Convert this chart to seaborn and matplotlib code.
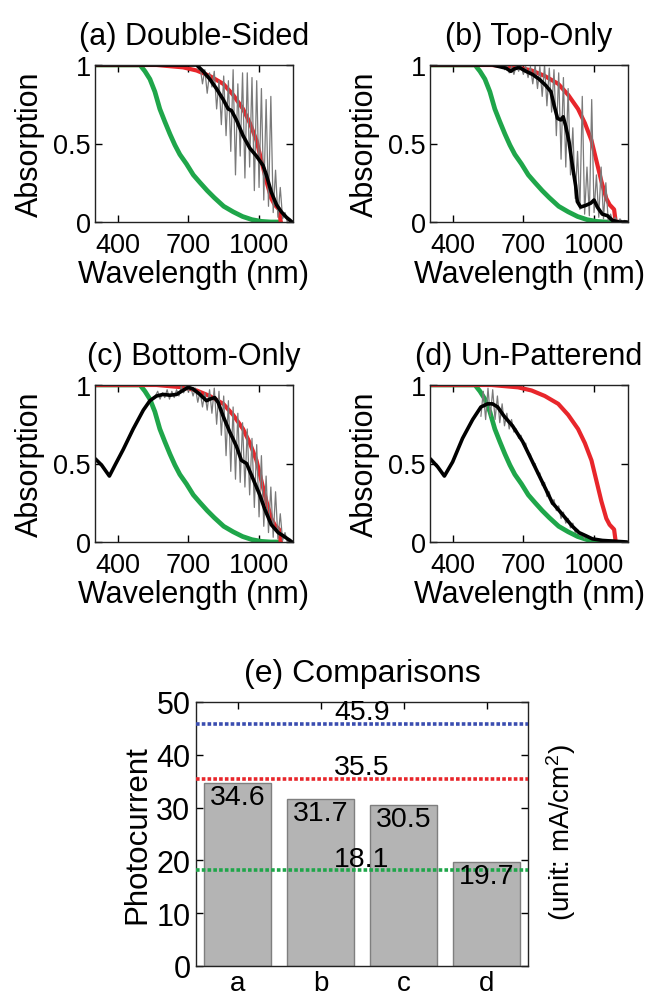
import matplotlib
matplotlib.use("Agg")
import matplotlib.pyplot as plt
import seaborn as sns

# shared reference curves (same in every panel)
green_x = [305, 495, 516, 537, 558, 579, 600, 622, 643, 664, 692, 721, 750, 780, 810, 850, 890, 930, 970, 1010, 1050, 1090]
green_y = [1.0, 1.0, 0.96, 0.91, 0.83, 0.72, 0.64, 0.56, 0.49, 0.43, 0.37, 0.30, 0.25, 0.20, 0.155, 0.10, 0.065, 0.035, 0.015, 0.004, 0.0, 0.0]
red_x = [305, 565, 678, 735, 791, 848, 890, 932, 961, 989, 1010, 1031, 1052, 1066, 1085, 1092]
red_y = [1.0, 1.0, 0.985, 0.965, 0.93, 0.88, 0.81, 0.72, 0.63, 0.52, 0.39, 0.26, 0.15, 0.11, 0.08, 0.0]

# (a) Double-Sided
black_a_x = [305, 735, 763, 791, 819, 848, 869, 883, 904, 932, 961, 989, 1017, 1031, 1052, 1074, 1095, 1116, 1140]
black_a_y = [1.0, 1.0, 0.96, 0.91, 0.85, 0.78, 0.72, 0.71, 0.65, 0.55, 0.47, 0.42, 0.36, 0.30, 0.19, 0.11, 0.064, 0.03, 0.0]
grey_a_x = list(range(740, 1141, 10))
grey_a_y = [0.97, 0.99, 0.88, 0.97, 0.82, 0.95, 0.86, 0.96, 0.72, 0.90, 0.62, 0.93, 0.55, 0.90, 0.45, 0.97,
            0.30, 0.88, 0.42, 0.95, 0.28, 0.95, 0.35, 0.92, 0.20, 0.90, 0.22, 0.85, 0.14, 0.78, 0.10, 0.80,
            0.06, 0.33, 0.03, 0.22, 0.02, 0.06, 0.00, 0.02, 0.00]

# (b) Top-Only
black_b_x = [305, 569, 598, 626, 647, 661, 682, 711, 739, 767, 795, 817, 831, 845, 859, 869, 880, 894, 908, 922,
             929, 943, 965, 986, 1000, 1014, 1035, 1057, 1078, 1106, 1140]
black_b_y = [1.0, 1.0, 0.99, 0.98, 0.96, 0.975, 0.985, 0.96, 0.94, 0.91, 0.87, 0.83, 0.74, 0.66, 0.65, 0.67, 0.61,
             0.51, 0.36, 0.23, 0.13, 0.095, 0.106, 0.12, 0.14, 0.095, 0.05, 0.04, 0.01, 0.0, 0.0]
grey_b_x = list(range(620, 1141, 10))
grey_b_y = [0.97, 1.00, 0.95, 0.99, 0.94, 1.00, 0.96, 1.00, 0.94, 0.99, 0.92, 0.99, 0.88, 1.00, 0.85, 0.99,
            0.80, 1.00, 0.74, 0.98, 0.70, 0.97, 0.55, 0.95, 0.40, 0.92, 0.35, 0.85, 0.30, 0.60, 0.15, 0.45,
            0.08, 0.80, 0.05, 0.35, 0.04, 0.78, 0.06, 0.30, 0.03, 0.35, 0.02, 0.25, 0.01, 0.05, 0.00, 0.03,
            0.00, 0.02, 0.00, 0.01, 0.00]

# (c) Bottom-Only
black_c_x = [305, 332, 365, 389, 424, 466, 509, 537, 565, 593, 622, 650, 671, 699, 720, 749, 777, 791, 812, 826,
             848, 876, 904, 925, 947, 975, 1003, 1024, 1052, 1081, 1102, 1140]
black_c_y = [0.53, 0.49, 0.42, 0.49, 0.59, 0.72, 0.84, 0.90, 0.93, 0.94, 0.935, 0.94, 0.96, 0.985, 0.975, 0.94,
             0.90, 0.91, 0.92, 0.89, 0.80, 0.70, 0.61, 0.52, 0.50, 0.40, 0.30, 0.21, 0.11, 0.06, 0.04, 0.0]
grey_c_x = list(range(560, 1141, 10))
grey_c_y = [0.93, 0.96, 0.91, 0.95, 0.92, 0.97, 0.91, 0.96, 0.92, 0.97, 0.93, 0.99, 0.95, 1.00, 0.96, 0.99,
            0.93, 0.98, 0.89, 0.96, 0.86, 0.95, 0.84, 0.97, 0.82, 0.98, 0.75, 0.96, 0.68, 0.93, 0.55, 0.90,
            0.45, 0.86, 0.40, 0.82, 0.38, 0.76, 0.35, 0.72, 0.30, 0.66, 0.22, 0.62, 0.16, 0.55, 0.10, 0.42,
            0.06, 0.35, 0.03, 0.32, 0.02, 0.18, 0.01, 0.06, 0.00, 0.02, 0.00]

# (d) Un-Patterend
black_d_x = [305, 336, 365, 400, 442, 485, 520, 548, 569, 591, 619, 654, 697, 739, 781, 823, 852, 880, 908, 936,
             965, 993, 1035, 1140]
black_d_y = [0.53, 0.48, 0.42, 0.51, 0.66, 0.78, 0.86, 0.88, 0.88, 0.86, 0.80, 0.74, 0.64, 0.51, 0.38, 0.25,
             0.20, 0.15, 0.10, 0.06, 0.04, 0.02, 0.01, 0.0]
grey_d_x = list(range(520, 961, 10))
grey_d_y = [0.80, 0.96, 0.78, 0.98, 0.80, 0.97, 0.78, 0.93, 0.76, 0.88, 0.74, 0.82, 0.72, 0.78, 0.70, 0.72,
            0.66, 0.68, 0.62, 0.63, 0.56, 0.56, 0.49, 0.50, 0.43, 0.44, 0.36, 0.38, 0.29, 0.32, 0.24, 0.27,
            0.20, 0.23, 0.15, 0.19, 0.12, 0.15, 0.09, 0.12, 0.06, 0.08, 0.04, 0.05, 0.02]

panel_titles = ["(a) Double-Sided", "(b) Top-Only", "(c) Bottom-Only", "(d) Un-Patterend"]

# (e) photocurrent comparison
bar_labels = ["a", "b", "c", "d"]
bar_values = [34.6, 31.7, 30.5, 19.7]
ref_values = [45.9, 35.5, 18.1]
ref_colors = ["#3a4db0", "#e8262b", "#1fa64a"]

sns.set_theme(style="ticks")
plt.rcParams['font.family'] = ['Liberation Sans', 'DejaVu Sans']
plt.rcParams['mathtext.default'] = 'regular'
for k in ['text.color', 'axes.labelcolor', 'xtick.color', 'ytick.color', 'axes.edgecolor']:
    plt.rcParams[k] = 'black'

fig = plt.figure(figsize=(6.55, 10.03), dpi=100)

W, H = 655.0, 1003.0
boxes = [(95, 66, 293, 223), (430, 66, 628, 223), (95, 386, 293, 543), (430, 386, 628, 543)]
blacks = [(black_a_x, black_a_y), (black_b_x, black_b_y), (black_c_x, black_c_y), (black_d_x, black_d_y)]
greys = [(grey_a_x, grey_a_y), (grey_b_x, grey_b_y), (grey_c_x, grey_c_y), (grey_d_x, grey_d_y)]

for i in range(4):
    l, t, r, b = boxes[i]
    ax = fig.add_axes([l / W, 1 - b / H, (r - l) / W, (b - t) / H])
    sns.lineplot(x=green_x, y=green_y, color="#1fa64a", lw=3.4, ax=ax, estimator=None, sort=False)
    sns.lineplot(x=red_x, y=red_y, color="#e8262b", lw=3.0, ax=ax, estimator=None, sort=False)
    sns.lineplot(x=greys[i][0], y=greys[i][1], color="#7a7a7a", lw=0.9, ax=ax, estimator=None, sort=False)
    sns.lineplot(x=blacks[i][0], y=blacks[i][1], color="black", lw=2.6, ax=ax, estimator=None, sort=False)
    ax.set_xlim(304, 1144)
    ax.set_ylim(0, 1)
    ax.set_xticks([400, 700, 1000])
    ax.set_yticks([0, 0.5, 1])
    ax.set_yticklabels(["0", "0.5", "1"])
    ax.tick_params(direction="in", top=True, right=True, length=5, width=1, labelsize=19.5)
    ax.tick_params(axis="x", pad=7)
    ax.tick_params(axis="y", pad=3)
    for s in ax.spines.values():
        s.set_linewidth(1.0)
        s.set_color("#222222")
    ax.set_title(panel_titles[i], fontsize=22, pad=15)
    ax.set_xlabel("Wavelength (nm)", fontsize=22, labelpad=1)
    ax.set_ylabel("Absorption", fontsize=22, labelpad=6)

# bar chart
l, t, r, b = 196, 703, 528, 967
ax = fig.add_axes([l / W, 1 - b / H, (r - l) / W, (b - t) / H])
sns.barplot(x=bar_labels, y=bar_values, color="#b4b4b4", edgecolor="#7f7f7f", linewidth=1,
            saturation=1, width=0.81, ax=ax)
for v, c in zip(ref_values, ref_colors):
    ax.axhline(v, color=c, lw=2.6, ls=(0, (1, 0.6)), zorder=3)
    ax.text(1.5, v - 0.3, f"{v:.1f}", ha="center", va="bottom", fontsize=20.5, zorder=4)
for k, v in enumerate(bar_values):
    ax.text(k, v - 0.2, f"{v:.1f}", ha="center", va="top", fontsize=20.5, zorder=4)
ax.set_xlim(-0.5, 3.5)
ax.set_ylim(0, 50)
ax.set_yticks([0, 10, 20, 30, 40, 50])
ax.tick_params(direction="in", top=True, right=True, length=5, width=1, labelsize=22)
ax.tick_params(axis="x", pad=3, labelsize=20)
ax.tick_params(axis="y", pad=4)
for s in ax.spines.values():
    s.set_linewidth(1.0)
    s.set_color("#222222")
ax.set_title("(e) Comparisons", fontsize=23, pad=15)
ax.set_ylabel("Photocurrent", fontsize=22.5, labelpad=3)
ax.set_xlabel("")
ax.text(1.05, 0.51, "(unit: mA/cm$^{2}$)", rotation=90, ha="left", va="center",
        fontsize=20, transform=ax.transAxes)

fig.savefig("out.png", dpi=100)
